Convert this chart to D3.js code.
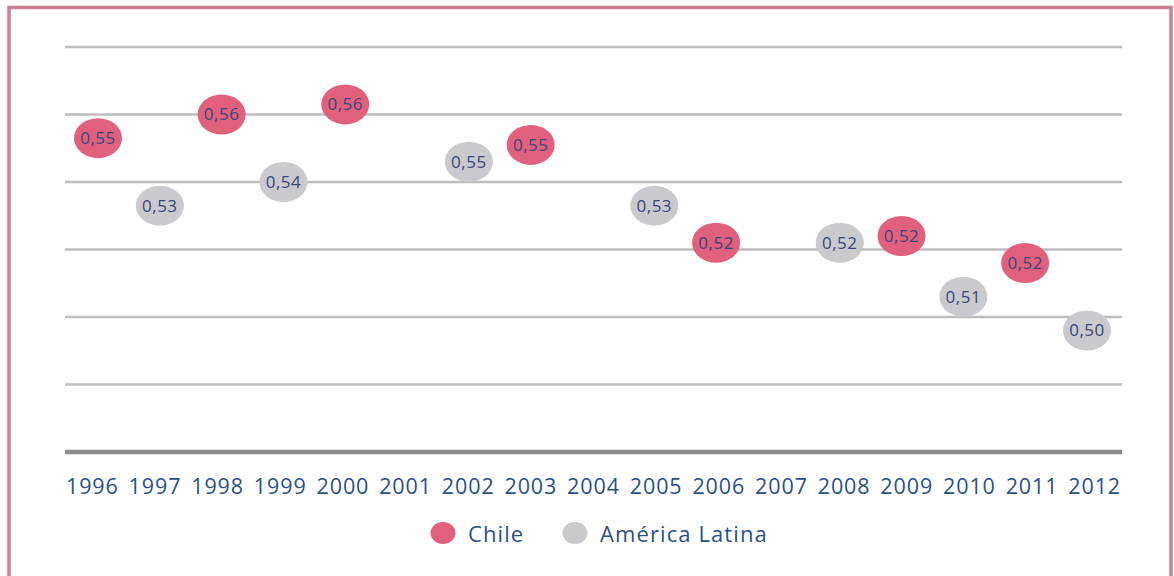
<!DOCTYPE html>
<html><head><meta charset="utf-8">
<script src="https://cdn.jsdelivr.net/npm/d3@7"></script>
<style>html,body{margin:0;padding:0;background:#fff;}svg{display:block;}</style>
</head><body>
<svg id="c" width="1174" height="576"></svg>
<script>
const years = ["1996","1997","1998","1999","2000","2001","2002","2003","2004","2005","2006","2007","2008","2009","2010","2011","2012"];
const chileYears = ["1996","1998","2000","2003","2006","2009","2011"];
const chileValues = [0.553,0.560,0.563,0.551,0.522,0.524,0.516];
const latamYears = ["1997","1999","2002","2005","2008","2010","2012"];
const latamValues = [0.533,0.540,0.546,0.533,0.522,0.506,0.496];
const gridTicks = [0.48,0.50,0.52,0.54,0.56,0.58];
const seriesNames = ["Chile","América Latina"];
const colors = {"Chile":"#e0607e","América Latina":"#c9c9ce"};

const svg = d3.select("#c");
const font = "'Open Sans', sans-serif";
const xAxisScale = d3.scaleBand().domain(years).range([61,1126]);
const x = d3.scalePoint().domain(years).range([98,1087]);
const y = d3.scaleLinear().domain([0.46,0.58]).range([452,47]);
const fmt = d3.formatLocale({decimal:",",thousands:".",grouping:[3],currency:["",""]}).format(".2f");

// border
svg.append("rect").attr("x",9).attr("y",7.5).attr("width",1162).attr("height",600)
  .attr("fill","none").attr("stroke","#c98090").attr("stroke-width",3.5);

// grid
svg.append("g").selectAll("line").data(gridTicks).join("line")
  .attr("x1",65).attr("x2",1122).attr("y1",d=>y(d)).attr("y2",d=>y(d))
  .attr("stroke","#bdbdbd").attr("stroke-width",2.5);

// x axis
const xa = svg.append("g").attr("transform",`translate(0,${y(0.46)})`)
  .call(d3.axisBottom(xAxisScale).tickSize(0).tickPadding(27));
xa.select(".domain").attr("d","M65,0H1122").attr("stroke","#8c8c8c").attr("stroke-width",4.5);
xa.selectAll("text").attr("font-family",font).attr("font-size",21.5).attr("letter-spacing",0.9).attr("fill","#2b5088");

const series = [
  {name:"Chile", data:chileYears.map((yr,i)=>({yr,v:chileValues[i]}))},
  {name:"América Latina", data:latamYears.map((yr,i)=>({yr,v:latamValues[i]}))}
];
series.forEach(s=>{
  const g = svg.append("g").selectAll("g").data(s.data).join("g")
    .attr("transform",d=>`translate(${x(d.yr)},${y(d.v)})`);
  g.append("ellipse").attr("rx",24).attr("ry",20).attr("fill",colors[s.name]);
  g.append("text").attr("text-anchor","middle").attr("dy","0.35em")
    .attr("font-family",font).attr("font-size",17).attr("letter-spacing",0.5).attr("fill","#3a4677")
    .text(d=>fmt(d.v));
});

// legend
const leg = svg.append("g");
const lx = [443,575];
seriesNames.forEach((n,i)=>{
  leg.append("ellipse").attr("cx",lx[i]).attr("cy",533).attr("rx",12.5).attr("ry",11).attr("fill",colors[n]);
  leg.append("text").attr("x",lx[i]+25).attr("y",534).attr("dy","0.35em")
    .attr("font-family",font).attr("font-size",22).attr("letter-spacing",1.1).attr("fill","#2b5088").text(n);
});
</script>
</body></html>
